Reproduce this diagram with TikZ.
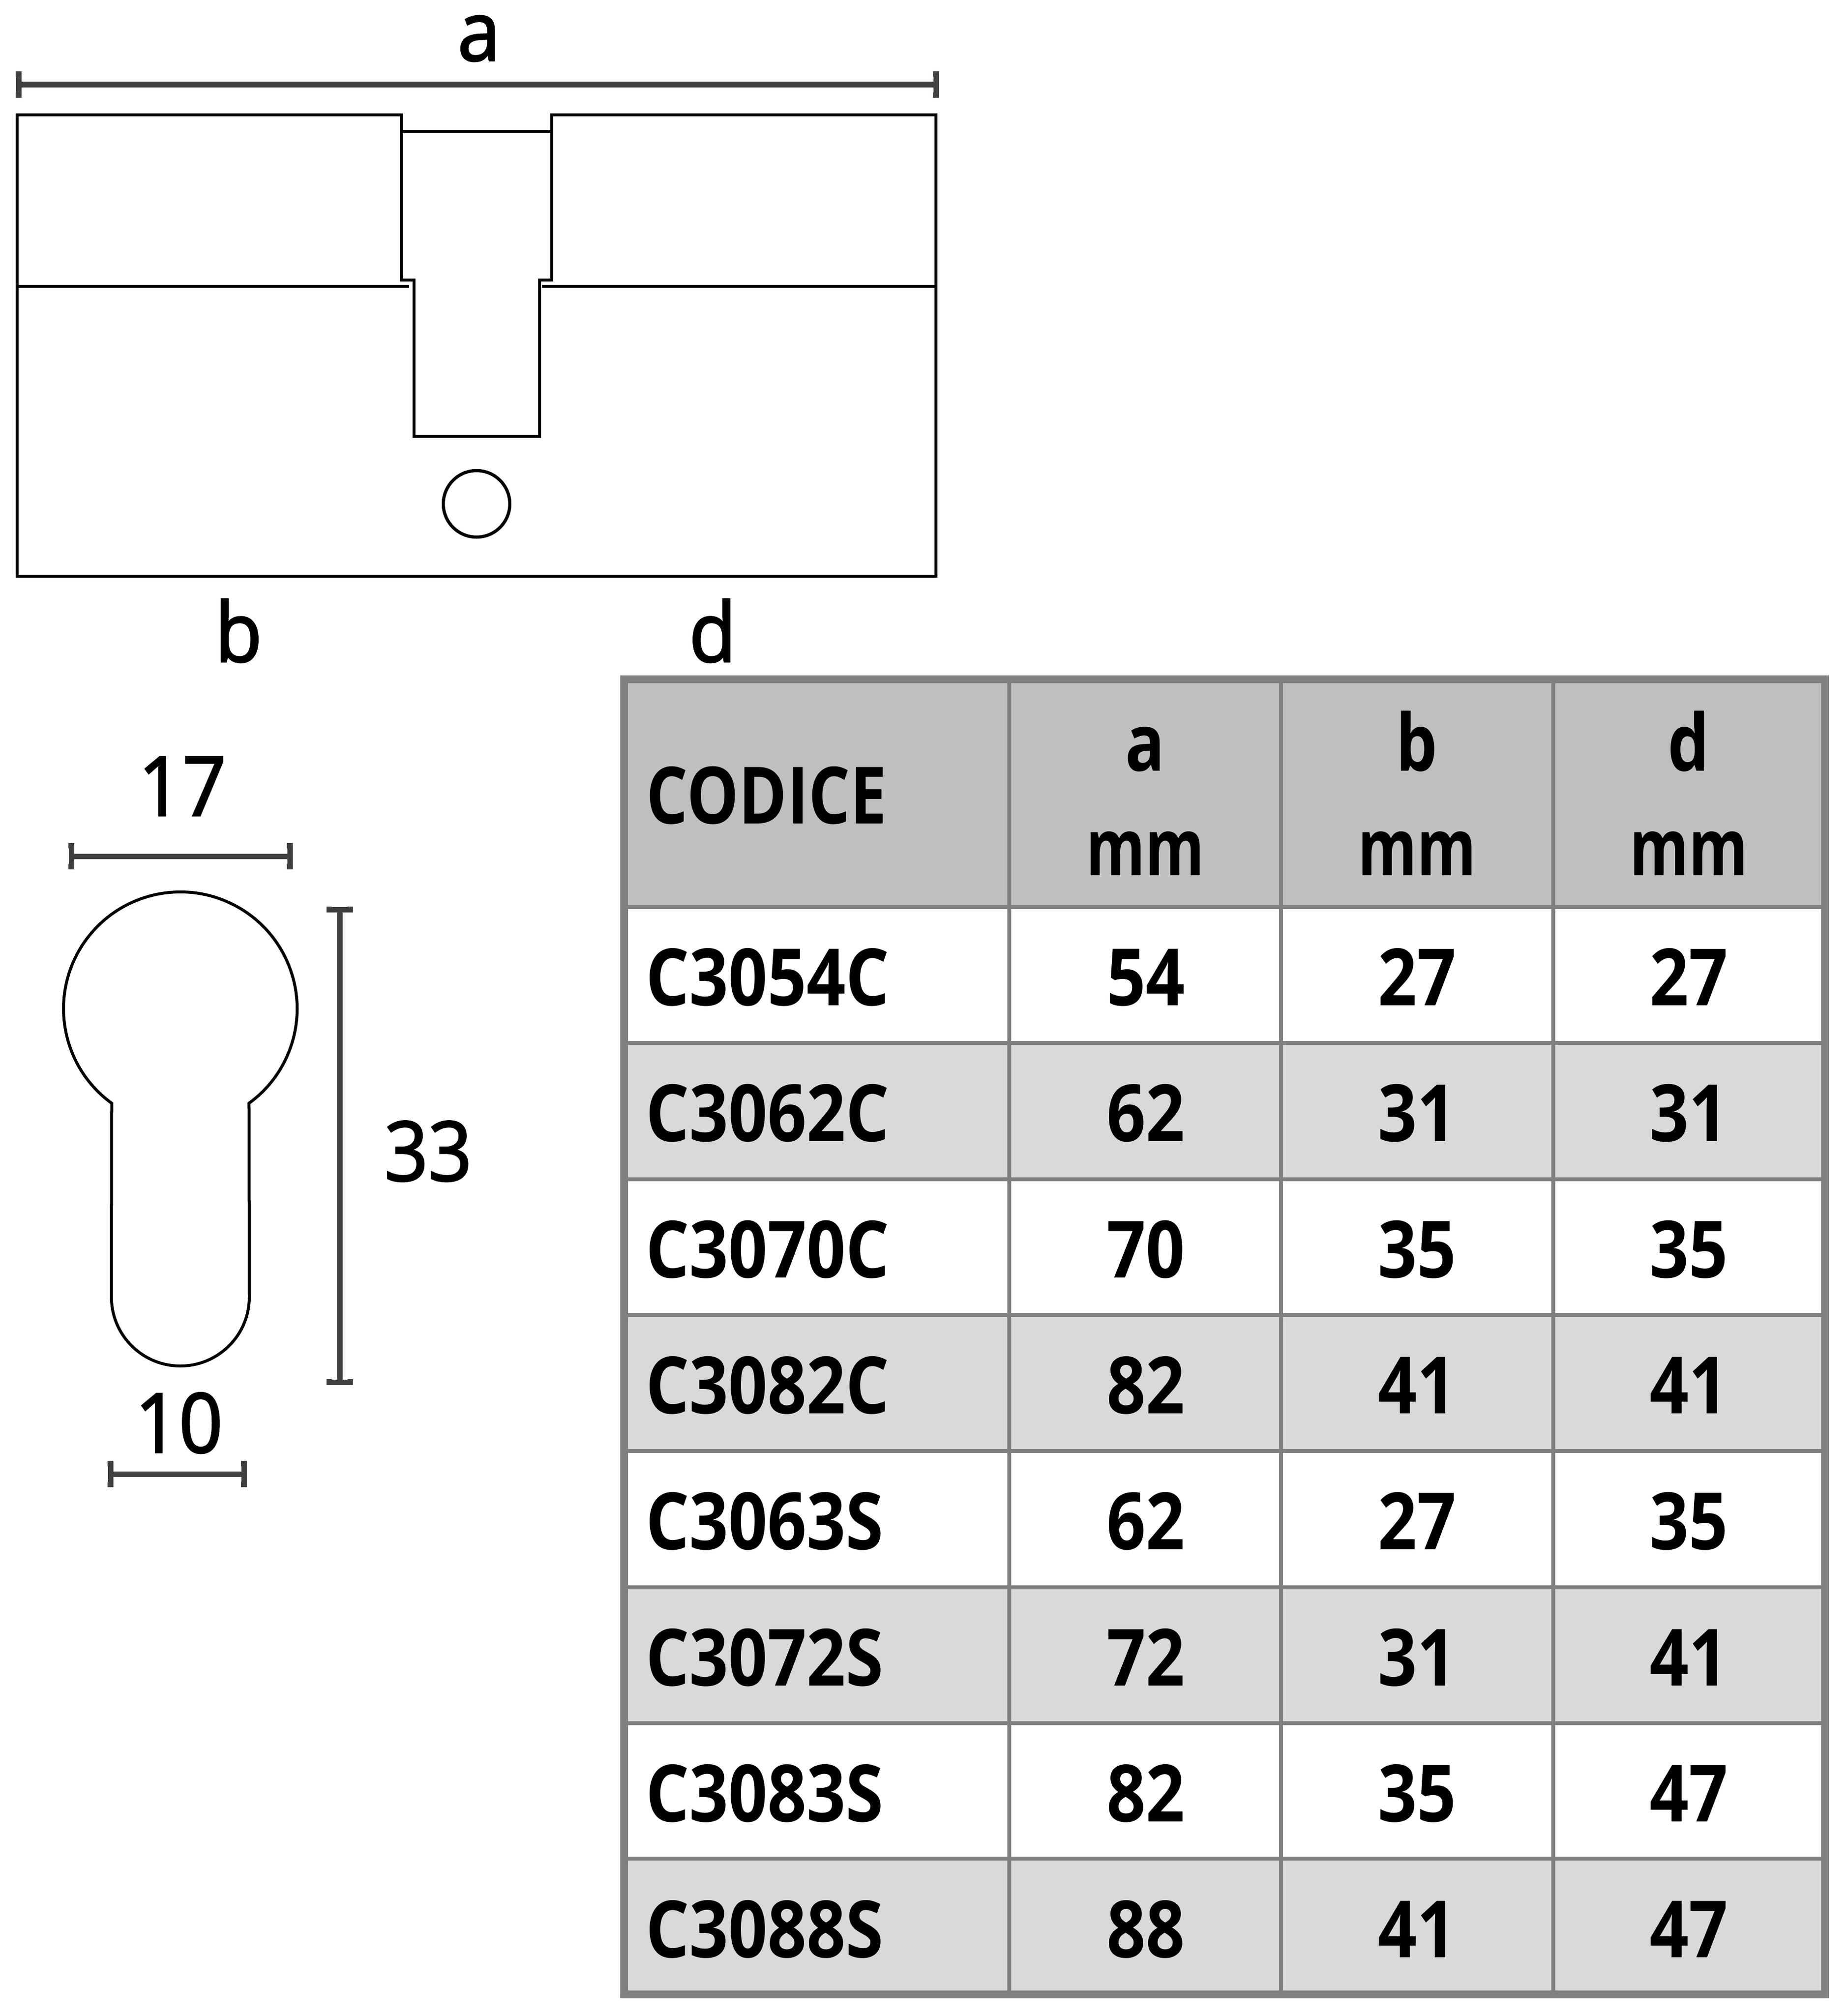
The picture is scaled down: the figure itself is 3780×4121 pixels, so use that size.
\documentclass[tikz,border=0pt]{standalone}
\usepackage{fontspec}
\usetikzlibrary{arrows.meta}
\newfontfamily\dimfont[FakeStretch=0.93,FakeBold=2]{Open Sans}
\newfontfamily\cellfont[FakeStretch=0.865]{Open Sans Bold}
\newfontfamily\headfont[FakeStretch=0.825]{Open Sans Bold}
\newfontfamily\unitfont[FakeStretch=0.76]{Open Sans Bold}
\definecolor{dimgray}{HTML}{404040}
\definecolor{gridgray}{HTML}{808080}
\definecolor{headgray}{HTML}{BFBFBF}
\definecolor{stripegray}{HTML}{D9D9D9}
\begin{document}
\begin{tikzpicture}[x=0.01cm,y=-0.01cm]
\tikzstyle{every node}+=[inner sep=0pt]
\tikzstyle{partline}=[black,line width=0.065cm]
\tikzstyle{keyline}=[black,line width=0.06cm]
\tikzstyle{dimline}=[dimgray,line width=0.11cm,{Bar[width=0.54cm,length=0.12cm]}-{Bar[width=0.54cm,length=0.12cm]}]
\tikzstyle{gridline}=[gridgray,line width=0.08cm]
\tikzstyle{rimline}=[gridgray,line width=0.16cm]
\tikzstyle{dimlabel}=[anchor=base,font=\dimfont\fontsize{48}{48}\selectfont]
\tikzstyle{cellmid}=[anchor=base,font=\cellfont\fontsize{46}{46}\selectfont]
\tikzstyle{cellleft}=[anchor=base west,font=\cellfont\fontsize{46}{46}\selectfont]
\tikzstyle{headmid}=[anchor=base,font=\headfont\fontsize{46}{46}\selectfont]
\tikzstyle{unitmid}=[anchor=base,font=\unitfont\fontsize{46}{46}\selectfont]
\useasboundingbox (0,0) rectangle (3780,4121);
% cylinder
\draw [partline] (35,235) -- (821,235) -- (821,573) -- (847,573) -- (847,893) -- (1104,893) -- (1104,573) -- (1129,573) -- (1129,235) -- (1915,235) -- (1915,1179) -- (35,1179) -- cycle;
\draw [partline] (821,269) -- (1129,269);
\draw [partline] (35,586) -- (837,586);
\draw [partline] (1109,586) -- (1915,586);
\draw [partline] (975,1031) circle (68);
\coordinate (a1) at (32,173);
\coordinate (a2) at (1921,173);
\draw [dimline] (a1) -- (a2);
\node [dimlabel] (a) at (980,124) {a};
\node [dimlabel] (b) at (488,1354) {b};
\node [dimlabel] (d) at (1458,1354) {d};
% key hole
\coordinate (keyc) at (369,2064);
\draw [keyline] (keyc) ++(126:239) arc (126:414:239) -- (510,2654) arc (0:180:141) -- cycle;
\coordinate (w1) at (140,1752);
\coordinate (w2) at (599,1752);
\draw [dimline] (w1) -- (w2);
\node [dimlabel] (w) at (373,1669) {17};
\coordinate (h1) at (695,1855);
\coordinate (h2) at (695,2834);
\draw [dimline] (h1) -- (h2);
\node [dimlabel] (h) at (876,2416) {33};
\coordinate (n1) at (220,3016);
\coordinate (n2) at (505,3016);
\draw [dimline] (n1) -- (n2);
\node [dimlabel] (n) at (366,2972) {10};
% table
\fill [headgray] (1277,1390) rectangle (3734,1856);
\fill [stripegray] (1277,2134) rectangle (3734,2413);
\fill [stripegray] (1277,2691) rectangle (3734,2969);
\fill [stripegray] (1277,3248) rectangle (3734,3526);
\fill [stripegray] (1277,3803) rectangle (3734,4081);
\draw [gridline] (1277,1856) -- (3734,1856);
\draw [gridline] (1277,2134) -- (3734,2134);
\draw [gridline] (1277,2413) -- (3734,2413);
\draw [gridline] (1277,2691) -- (3734,2691);
\draw [gridline] (1277,2969) -- (3734,2969);
\draw [gridline] (1277,3248) -- (3734,3248);
\draw [gridline] (1277,3526) -- (3734,3526);
\draw [gridline] (1277,3803) -- (3734,3803);
\draw [gridline] (2065,1390) -- (2065,4081);
\draw [gridline] (2621,1390) -- (2621,4081);
\draw [gridline] (3178,1390) -- (3178,4081);
\draw [rimline] (1277,1390) rectangle (3734,4081);
\node [anchor=base west,font=\headfont\fontsize{46}{46}\selectfont] (codice) at (1322,1685) {CODICE};
\node [headmid] (heada) at (2343,1577) {a};
\node [unitmid] (unita) at (2343,1791) {mm};
\node [headmid] (headb) at (2899,1577) {b};
\node [unitmid] (unitb) at (2899,1791) {mm};
\node [headmid] (headd) at (3455,1577) {d};
\node [unitmid] (unitd) at (3455,1791) {mm};
\node [cellleft] (r1c) at (1321,2057) {C3054C};
\node [cellmid] (r1a) at (2344,2057) {54};
\node [cellmid] (r1b) at (2899,2057) {27};
\node [cellmid] (r1d) at (3455,2057) {27};
\node [cellleft] (r2c) at (1321,2335) {C3062C};
\node [cellmid] (r2a) at (2344,2335) {62};
\node [cellmid] (r2b) at (2899,2335) {31};
\node [cellmid] (r2d) at (3455,2335) {31};
\node [cellleft] (r3c) at (1321,2614) {C3070C};
\node [cellmid] (r3a) at (2344,2614) {70};
\node [cellmid] (r3b) at (2899,2614) {35};
\node [cellmid] (r3d) at (3455,2614) {35};
\node [cellleft] (r4c) at (1321,2892) {C3082C};
\node [cellmid] (r4a) at (2344,2892) {82};
\node [cellmid] (r4b) at (2899,2892) {41};
\node [cellmid] (r4d) at (3455,2892) {41};
\node [cellleft] (r5c) at (1321,3170) {C3063S};
\node [cellmid] (r5a) at (2344,3170) {62};
\node [cellmid] (r5b) at (2899,3170) {27};
\node [cellmid] (r5d) at (3455,3170) {35};
\node [cellleft] (r6c) at (1321,3449) {C3072S};
\node [cellmid] (r6a) at (2344,3449) {72};
\node [cellmid] (r6b) at (2899,3449) {31};
\node [cellmid] (r6d) at (3455,3449) {41};
\node [cellleft] (r7c) at (1321,3727) {C3083S};
\node [cellmid] (r7a) at (2344,3727) {82};
\node [cellmid] (r7b) at (2899,3727) {35};
\node [cellmid] (r7d) at (3455,3727) {47};
\node [cellleft] (r8c) at (1321,4005) {C3088S};
\node [cellmid] (r8a) at (2344,4005) {88};
\node [cellmid] (r8b) at (2899,4005) {41};
\node [cellmid] (r8d) at (3455,4005) {47};
\end{tikzpicture}
\end{document}
